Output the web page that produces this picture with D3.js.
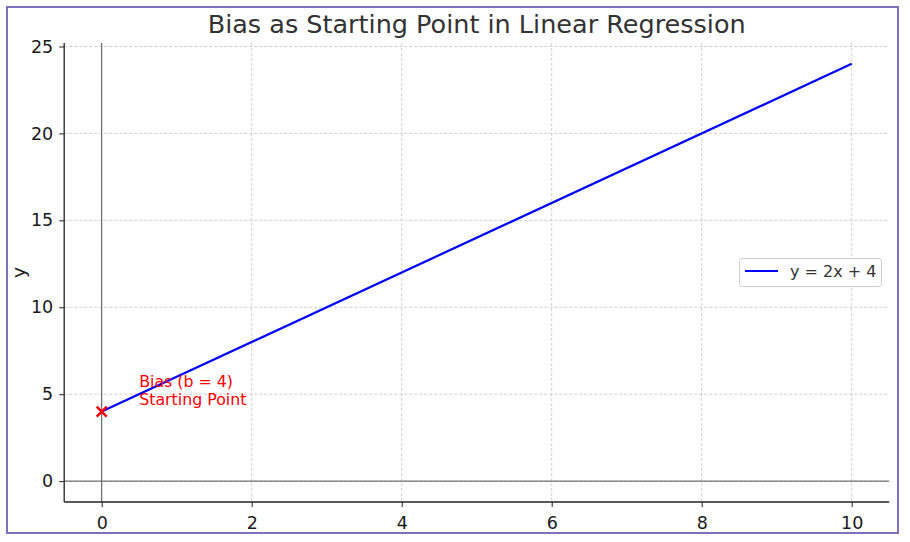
<!DOCTYPE html>
<html><head><meta charset="utf-8">
<script src="https://cdn.jsdelivr.net/npm/d3@7"></script>
<style>body{margin:0;background:#fff}svg{display:block}text{font-family:"DejaVu Sans",sans-serif}</style>
</head><body>
<svg id="c" width="910" height="542"></svg>
<script>
const xValues = [0, 10];
const yValues = [4, 24];
const biasPoint = [0, 4];
const xTicks = [0, 2, 4, 6, 8, 10];
const yTicks = [0, 5, 10, 15, 20, 25];
const seriesLabel = "y = 2x + 4";
const annotationLines = ["Bias (b = 4)", "Starting Point"];
const titleText = "Bias as Starting Point in Linear Regression";

const svg = d3.select("#c");
svg.append("rect").attr("x",7).attr("y",7).attr("width",891).attr("height",526)
  .attr("fill","#fff").attr("stroke","#8070c0").attr("stroke-width",2);

const L=64.2, R=889.2, T=43, B=502;
const x = d3.scaleLinear().domain([-0.5,10.5]).range([L,R]);
const y = d3.scaleLinear().domain([-1.2,25.2]).range([B,T]);

// grid
const g = svg.append("g");
g.selectAll(".gx").data(xTicks).join("line")
  .attr("x1",d=>x(d)).attr("x2",d=>x(d)).attr("y1",T).attr("y2",B)
  .attr("stroke","#c4c4c4").attr("stroke-width",0.8).attr("stroke-dasharray","3,2");
g.selectAll(".gy").data(yTicks).join("line")
  .attr("x1",L).attr("x2",R).attr("y1",d=>y(d)).attr("y2",d=>y(d))
  .attr("stroke","#c4c4c4").attr("stroke-width",0.8).attr("stroke-dasharray","3,2");

// axhline / axvline
svg.append("line").attr("x1",L).attr("x2",R).attr("y1",y(0)).attr("y2",y(0))
  .attr("stroke","#555").attr("stroke-width",1);
svg.append("line").attr("x1",x(0)).attr("x2",x(0)).attr("y1",T).attr("y2",B)
  .attr("stroke","#555").attr("stroke-width",1);

// line
const data = xValues.map((v,i)=>[v,yValues[i]]);
svg.append("path").datum(data)
  .attr("d",d3.line().x(d=>x(d[0])).y(d=>y(d[1])))
  .attr("fill","none").attr("stroke","#0000ff").attr("stroke-width",2.2);

// marker
const mx=x(biasPoint[0]), my=y(biasPoint[1]), s=5;
svg.append("path").attr("d",`M${mx-s},${my-s}L${mx+s},${my+s}M${mx-s},${my+s}L${mx+s},${my-s}`)
  .attr("stroke","red").attr("stroke-width",2.5);

// annotation
const ann = svg.append("text").attr("fill","red").style("font-size","15.8px");
annotationLines.forEach((t,i)=>{
  ann.append("tspan").attr("x",x(0.5)).attr("y",y(biasPoint[1])-25+i*18).text(t);
});

// axes
const xAxis = svg.append("g").attr("transform",`translate(0,${B})`)
  .call(d3.axisBottom(x).tickValues(xTicks).tickSize(5).tickPadding(6).tickFormat(d3.format("d")));
const yAxis = svg.append("g").attr("transform",`translate(${L},0)`)
  .call(d3.axisLeft(y).tickValues(yTicks).tickSize(5).tickPadding(6).tickFormat(d3.format("d")));
[xAxis,yAxis].forEach(a=>{
  a.select(".domain").remove();
  a.attr("font-size",null).attr("font-family",null);
  a.selectAll("text").style("font-size","17.5px").attr("fill","#1a1a1a").style("font-family","DejaVu Sans");
  a.selectAll("line").attr("stroke","#222").attr("stroke-width",1);
});
xAxis.selectAll("text").attr("dy","0.9em");
svg.append("line").attr("x1",L).attr("x2",R).attr("y1",B).attr("y2",B).attr("stroke","#222").attr("stroke-width",1.3);
svg.append("line").attr("x1",L).attr("x2",L).attr("y1",T).attr("y2",B).attr("stroke","#222").attr("stroke-width",1.3);

// y label
svg.append("text").attr("transform",`translate(25,${(T+B)/2}) rotate(-90)`)
  .attr("text-anchor","middle").style("font-size","18.5px").attr("fill","#1a1a1a").text("y");

// title
svg.append("text").attr("x",(L+R)/2).attr("y",33).attr("text-anchor","middle")
  .style("font-size","25.5px").attr("fill","#333").text(titleText);

// legend
const lg = svg.append("g");
lg.append("rect").attr("x",739.5).attr("y",258.5).attr("width",142).attr("height",28).attr("rx",3)
  .attr("fill","#fff").attr("fill-opacity",0.8).attr("stroke","#ccc");
lg.append("line").attr("x1",745).attr("x2",778).attr("y1",271).attr("y2",271)
  .attr("stroke","#0000ff").attr("stroke-width",2.2);
lg.append("text").attr("x",790).attr("y",277).style("font-size","16px").attr("fill","#333").text(seriesLabel);
</script>
</body></html>
